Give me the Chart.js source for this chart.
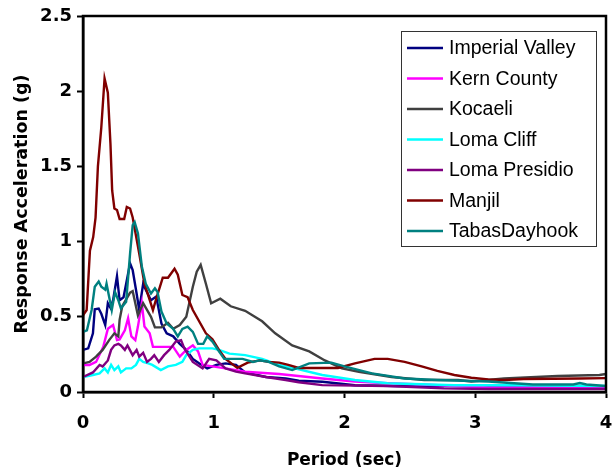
<!DOCTYPE html>
<html>
<head>
<meta charset="utf-8">
<script src="https://cdn.jsdelivr.net/npm/chart.js@4.4.1/dist/chart.umd.min.js"></script>
<style>
  html, body { margin: 0; padding: 0; background: #fff; }
  #wrap { width: 612px; height: 474px; }
</style>
</head>
<body>
<div id="wrap"><canvas id="spectra" width="612" height="474"></canvas></div>
<script>
// Response spectra (period in sec, acceleration in g)
const seriesNames = ['Imperial Valley', 'Kern County', 'Kocaeli', 'Loma Cliff', 'Loma Presidio', 'Manjil', 'TabasDayhook'];
const seriesColors = ['#000080', '#ff00ff', '#404040', '#00ffff', '#800080', '#800000', '#008080'];

const xTicks = [0, 1, 2, 3, 4];
const yTicks = [0, 0.5, 1, 1.5, 2, 2.5];

const imperialT = [0, 0.04, 0.076, 0.09, 0.12, 0.14, 0.17, 0.19, 0.21, 0.23, 0.26, 0.28, 0.31, 0.33, 0.36, 0.38, 0.41, 0.43, 0.46, 0.48, 0.52, 0.56, 0.60, 0.64, 0.69, 0.74, 0.79, 0.84, 0.89, 0.95, 1.02, 1.09, 1.17, 1.24, 1.40, 1.55, 1.65, 1.83, 2.08, 2.4, 2.8, 3.2, 3.6, 4.0];
const imperialSa = [0.28, 0.29, 0.39, 0.55, 0.555, 0.52, 0.445, 0.59, 0.56, 0.61, 0.77, 0.61, 0.63, 0.72, 0.855, 0.81, 0.655, 0.545, 0.72, 0.68, 0.61, 0.635, 0.455, 0.39, 0.37, 0.32, 0.28, 0.22, 0.19, 0.157, 0.18, 0.19, 0.18, 0.13, 0.10, 0.09, 0.075, 0.068, 0.045, 0.04, 0.04, 0.04, 0.035, 0.035];

const kernT = [0, 0.05, 0.10, 0.155, 0.19, 0.23, 0.26, 0.28, 0.32, 0.345, 0.37, 0.40, 0.42, 0.45, 0.47, 0.51, 0.535, 0.61, 0.69, 0.74, 0.79, 0.84, 0.88, 0.915, 0.99, 1.09, 1.24, 1.50, 1.83, 2.08, 2.33, 2.59, 3.1, 3.5, 4.0];
const kernSa = [0.18, 0.18, 0.20, 0.30, 0.42, 0.445, 0.345, 0.35, 0.41, 0.49, 0.37, 0.345, 0.435, 0.59, 0.435, 0.39, 0.30, 0.30, 0.30, 0.235, 0.28, 0.31, 0.27, 0.18, 0.17, 0.157, 0.135, 0.12, 0.09, 0.07, 0.058, 0.05, 0.03, 0.03, 0.025];

const kocaeliT = [0, 0.05, 0.10, 0.15, 0.20, 0.24, 0.27, 0.28, 0.30, 0.36, 0.38, 0.42, 0.46, 0.52, 0.55, 0.60, 0.65, 0.69, 0.74, 0.79, 0.84, 0.87, 0.90, 0.94, 0.98, 1.05, 1.13, 1.24, 1.37, 1.47, 1.60, 1.73, 1.85, 1.98, 2.11, 2.36, 2.61, 2.87, 2.97, 3.22, 3.63, 3.95, 4.0];
const kocaeliSa = [0.19, 0.20, 0.235, 0.28, 0.345, 0.39, 0.37, 0.48, 0.57, 0.66, 0.67, 0.51, 0.59, 0.50, 0.43, 0.43, 0.46, 0.42, 0.445, 0.50, 0.70, 0.80, 0.845, 0.72, 0.59, 0.62, 0.57, 0.54, 0.47, 0.39, 0.31, 0.27, 0.21, 0.157, 0.135, 0.10, 0.08, 0.08, 0.07, 0.09, 0.106, 0.113, 0.12];

const cliffT = [0, 0.076, 0.127, 0.165, 0.19, 0.215, 0.24, 0.27, 0.29, 0.33, 0.37, 0.405, 0.43, 0.46, 0.50, 0.53, 0.595, 0.65, 0.71, 0.76, 0.79, 0.84, 0.89, 0.99, 1.04, 1.12, 1.24, 1.37, 1.50, 1.62, 1.83, 2.08, 2.33, 2.84, 3.3, 4.0];
const cliffSa = [0.10, 0.113, 0.124, 0.157, 0.13, 0.18, 0.145, 0.17, 0.13, 0.157, 0.157, 0.18, 0.22, 0.20, 0.19, 0.18, 0.146, 0.17, 0.18, 0.20, 0.245, 0.28, 0.29, 0.29, 0.28, 0.255, 0.245, 0.22, 0.18, 0.157, 0.113, 0.08, 0.058, 0.045, 0.045, 0.04];

const presidioT = [0, 0.076, 0.127, 0.15, 0.19, 0.215, 0.24, 0.27, 0.29, 0.32, 0.34, 0.38, 0.41, 0.43, 0.46, 0.49, 0.52, 0.545, 0.58, 0.62, 0.66, 0.71, 0.75, 0.775, 0.84, 0.915, 0.965, 1.02, 1.09, 1.17, 1.24, 1.40, 1.55, 1.65, 1.83, 2.33, 2.76, 3.1, 3.5, 4.0];
const presidioSa = [0.10, 0.13, 0.18, 0.17, 0.21, 0.28, 0.31, 0.32, 0.31, 0.28, 0.31, 0.245, 0.28, 0.235, 0.26, 0.20, 0.22, 0.245, 0.20, 0.245, 0.28, 0.335, 0.345, 0.29, 0.20, 0.157, 0.22, 0.21, 0.157, 0.135, 0.124, 0.10, 0.08, 0.065, 0.046, 0.04, 0.024, 0.02, 0.02, 0.02];

const manjilT = [0, 0.028, 0.053, 0.078, 0.096, 0.114, 0.14, 0.165, 0.19, 0.21, 0.223, 0.24, 0.26, 0.28, 0.315, 0.335, 0.36, 0.38, 0.43, 0.47, 0.535, 0.56, 0.61, 0.65, 0.70, 0.725, 0.76, 0.80, 0.84, 0.94, 0.99, 1.04, 1.09, 1.18, 1.26, 1.35, 1.42, 1.50, 1.57, 1.65, 1.80, 1.95, 2.08, 2.23, 2.33, 2.46, 2.59, 2.71, 2.84, 2.97, 3.10, 3.22, 3.37, 3.6, 3.8, 4.0];
const manjilSa = [0.51, 0.545, 0.94, 1.03, 1.16, 1.50, 1.76, 2.085, 1.99, 1.65, 1.34, 1.22, 1.21, 1.15, 1.15, 1.23, 1.22, 1.16, 0.92, 0.72, 0.545, 0.62, 0.76, 0.76, 0.82, 0.78, 0.645, 0.63, 0.545, 0.39, 0.35, 0.28, 0.22, 0.16, 0.195, 0.21, 0.20, 0.195, 0.18, 0.16, 0.16, 0.16, 0.19, 0.22, 0.22, 0.20, 0.17, 0.14, 0.113, 0.095, 0.084, 0.08, 0.086, 0.088, 0.09, 0.092];

const tabasT = [0, 0.03, 0.066, 0.09, 0.12, 0.14, 0.17, 0.18, 0.205, 0.22, 0.245, 0.27, 0.29, 0.33, 0.36, 0.38, 0.395, 0.42, 0.45, 0.48, 0.52, 0.55, 0.57, 0.60, 0.64, 0.69, 0.725, 0.76, 0.80, 0.84, 0.88, 0.92, 0.95, 0.99, 1.04, 1.08, 1.14, 1.22, 1.30, 1.35, 1.42, 1.50, 1.60, 1.73, 1.90, 2.0, 2.21, 2.46, 2.71, 3.1, 3.44, 3.75, 3.8, 3.85, 4.0];
const tabasSa = [0.40, 0.41, 0.545, 0.70, 0.735, 0.70, 0.68, 0.72, 0.61, 0.545, 0.665, 0.61, 0.555, 0.60, 0.92, 1.11, 1.13, 1.055, 0.835, 0.72, 0.655, 0.69, 0.665, 0.535, 0.455, 0.42, 0.37, 0.42, 0.435, 0.40, 0.32, 0.32, 0.37, 0.335, 0.27, 0.22, 0.22, 0.22, 0.20, 0.21, 0.20, 0.17, 0.146, 0.19, 0.195, 0.17, 0.124, 0.09, 0.08, 0.07, 0.05, 0.05, 0.06, 0.05, 0.04];

const periods = [imperialT, kernT, kocaeliT, cliffT, presidioT, manjilT, tabasT];
const accels = [imperialSa, kernSa, kocaeliSa, cliffSa, presidioSa, manjilSa, tabasSa];

const AXIS_FONT = '"DejaVu Sans", Verdana, sans-serif';
const LEGEND_FONT = '"Liberation Sans", Arial, Helvetica, sans-serif';

const datasets = seriesNames.map((name, i) => ({
    label: name,
    data: periods[i].map((t, j) => ({ x: t, y: accels[i][j] })),
    borderColor: seriesColors[i],
    backgroundColor: seriesColors[i],
    borderWidth: 2.4,
    pointRadius: 0,
    showLine: true,
    tension: 0,
    order: seriesNames.length - i
}));

// box around the plot area
const plotFrame = {
    id: 'plotFrame',
    afterDatasetsDraw(chart) {
        const { ctx, chartArea: a } = chart;
        ctx.save();
        ctx.strokeStyle = '#000';
        ctx.lineWidth = 2.5;
        ctx.strokeRect(a.left, a.top, a.right - a.left, a.bottom - a.top);
        ctx.restore();
    }
};

// legend box inside the plot, top right
const boxLegend = {
    id: 'boxLegend',
    afterDraw(chart) {
        const ctx = chart.ctx;
        const left = 401, top = 31, w = 195, h = 215, row = 30.5;
        ctx.save();
        ctx.fillStyle = '#fff';
        ctx.fillRect(left, top, w, h);
        ctx.strokeStyle = '#333';
        ctx.lineWidth = 1;
        ctx.strokeRect(left + 0.5, top + 0.5, w, h);
        ctx.font = '19.5px ' + LEGEND_FONT;
        ctx.textBaseline = 'middle';
        chart.data.datasets.forEach((ds, i) => {
            const y = top + 17 + i * row;
            ctx.strokeStyle = ds.borderColor;
            ctx.lineWidth = 2.5;
            ctx.beginPath();
            ctx.moveTo(left + 6, y);
            ctx.lineTo(left + 42, y);
            ctx.stroke();
            ctx.fillStyle = '#000';
            ctx.fillText(ds.label, left + 48, y + 1);
        });
        ctx.restore();
    }
};

new Chart(document.getElementById('spectra'), {
    type: 'scatter',
    data: { datasets: datasets },
    plugins: [plotFrame, boxLegend],
    options: {
        responsive: false,
        animation: false,
        layout: { padding: { top: 16, right: 6, bottom: 0, left: 0 } },
        plugins: {
            legend: { display: false },
            tooltip: { enabled: false }
        },
        scales: {
            x: {
                type: 'linear',
                min: 0,
                max: 4,
                afterFit: s => { s.height = 82; s.paddingLeft = 0; s.paddingRight = 0; },
                afterBuildTicks: s => { s.ticks = xTicks.map(v => ({ value: v })); },
                ticks: {
                    color: '#000',
                    padding: 15,
                    maxRotation: 0,
                    font: { family: AXIS_FONT, size: 18, weight: 'bold' },
                    callback: v => String(v)
                },
                grid: { drawOnChartArea: false, tickLength: 6, tickWidth: 2, tickColor: '#000' },
                border: { display: true, color: '#000', width: 2.5 },
                title: {
                    display: true,
                    text: 'Period (sec)',
                    color: '#000',
                    padding: { top: 0, bottom: 3 },
                    font: { family: AXIS_FONT, size: 17, weight: 'bold' }
                }
            },
            y: {
                type: 'linear',
                min: 0,
                max: 2.5,
                afterFit: s => { s.width = 83; s.paddingTop = 0; s.paddingBottom = 0; },
                afterBuildTicks: s => { s.ticks = yTicks.map(v => ({ value: v })); },
                ticks: {
                    color: '#000',
                    padding: 5,
                    font: { family: AXIS_FONT, size: 18, weight: 'bold' },
                    callback: v => String(v)
                },
                grid: { drawOnChartArea: false, tickLength: 6, tickWidth: 2, tickColor: '#000' },
                border: { display: true, color: '#000', width: 2.5 },
                title: {
                    display: true,
                    text: 'Response Acceleration (g)',
                    color: '#000',
                    padding: { top: 12, bottom: 0 },
                    font: { family: AXIS_FONT, size: 17.5, weight: 'bold' }
                }
            }
        }
    }
});
</script>
</body>
</html>
